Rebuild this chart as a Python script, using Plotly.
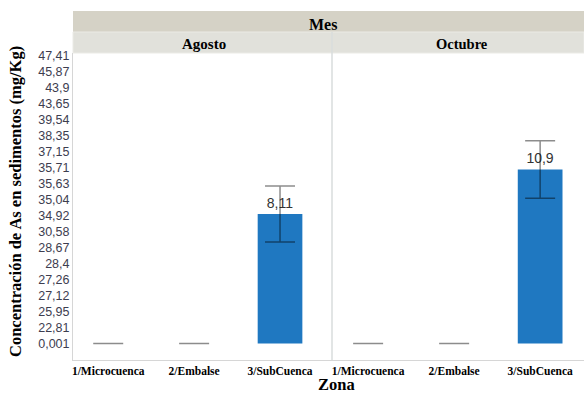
import plotly.graph_objects as go

# Data: mean As concentration per zone, by month, with error margins
zonas = ["1/Microcuenca", "2/Embalse", "3/SubCuenca"]
agosto_vals = [0, 0, 8.11]
agosto_err = [0, 0, 1.76]
octubre_vals = [0, 0, 10.9]
octubre_err = [0, 0, 1.8]

# Category labels used along the value axis
y_tick_labels = ["0,001", "22,81", "25,95", "27,12", "27,26", "28,4", "28,67",
                 "30,58", "34,92", "35,04", "35,63", "35,71", "37,15", "38,35",
                 "39,54", "43,65", "43,9", "45,87", "47,41"]

BAR_COLOR = "#1f78c1"
ERR_COLOR = "rgba(0,0,0,0.45)"
SERIF = "Liberation Serif"
SANS = "Liberation Sans"

W, H = 584, 395
ML, MR, MT, MB = 73, 0, 53, 35
plot_w = W - ML - MR
plot_h = H - MT - MB
split = (332 - ML) / plot_w


def py(pix):
    """Convert a pixel row to paper y coordinate."""
    return (H - MB - pix) / plot_h


def px(pix):
    return (pix - ML) / plot_w


def bar_trace(vals, errs, xaxis):
    labels = ["" if v == 0 else "%{y:.2~f}" for v in vals]
    return go.Bar(
        x=list(range(len(zonas))), y=vals, xaxis=xaxis, yaxis="y",
        width=0.52, marker=dict(color=BAR_COLOR, line=dict(width=0)),
        error_y=dict(type="data", array=errs, visible=True,
                     color=ERR_COLOR, thickness=1.5, width=15),
        texttemplate=labels, textposition="outside",
        textfont=dict(family=SANS, size=14, color="#333333"),
        cliponaxis=False, showlegend=False, hoverinfo="skip",
    )


fig = go.Figure()
fig.add_trace(bar_trace(agosto_vals, agosto_err, "x"))
fig.add_trace(bar_trace(octubre_vals, octubre_err, "x2"))

xcommon = dict(
    tickvals=list(range(len(zonas))),
    ticktext=["<b>%s</b>" % z for z in zonas],
    tickfont=dict(family=SERIF, size=11.5, color="black"),
    showgrid=False, zeroline=False, showline=True,
    linecolor="#d6d6d6", linewidth=1, ticks="", anchor="y",
)

fig.update_layout(
    width=W, height=H, autosize=False,
    margin=dict(l=ML, r=MR, t=MT, b=MB, pad=0),
    paper_bgcolor="white", plot_bgcolor="white",
    separators=",.",
    bargap=0.4,
    xaxis=dict(domain=[0, split], range=[-0.41, 2.605], **xcommon),
    xaxis2=dict(domain=[split, 1], range=[-0.42, 2.51], **xcommon),
    yaxis=dict(
        range=[-1.03, 18.19],
        tickvals=list(range(len(y_tick_labels))),
        ticktext=y_tick_labels,
        tickfont=dict(family=SANS, size=12.5, color="#3d3d4f"),
        showgrid=False, zeroline=False, showline=True,
        linecolor="#d6d6d6", linewidth=1, ticks="",
    ),
)

# Facet header strips
fig.add_shape(type="rect", xref="paper", yref="paper",
              x0=0, x1=1, y0=py(32), y1=py(11),
              fillcolor="#d5d2c6", line=dict(width=0), layer="below")
fig.add_shape(type="rect", xref="paper", yref="paper",
              x0=0, x1=1, y0=py(53), y1=py(32),
              fillcolor="#e1e1db", line=dict(color="#ebebe6", width=1),
              layer="below")
# Divider between the two month panels
fig.add_shape(type="line", xref="paper", yref="paper",
              x0=split, x1=split, y0=0, y1=py(32),
              line=dict(color="#d9dcdc", width=1.5))

ann = dict(xref="paper", yref="paper", showarrow=False,
           xanchor="center", yanchor="middle")
fig.add_annotation(text="<b>Mes</b>", x=px(323), y=py(25),
                   font=dict(family=SERIF, size=16, color="black"), **ann)
fig.add_annotation(text="<b>Agosto</b>", x=px(204), y=py(44),
                   font=dict(family=SERIF, size=15, color="black"), **ann)
fig.add_annotation(text="<b>Octubre</b>", x=px(462), y=py(44),
                   font=dict(family=SERIF, size=14.5, color="black"), **ann)
fig.add_annotation(text="<b>Zona</b>", x=px(336), y=py(384),
                   font=dict(family=SERIF, size=16.5, color="black"), **ann)
fig.add_annotation(text="<b>Concentración de As en sedimentos (mg/Kg)</b>",
                   x=px(15), y=py(202), textangle=-90,
                   font=dict(family=SERIF, size=16.5, color="black"), **ann)

fig.write_html("out.html")
